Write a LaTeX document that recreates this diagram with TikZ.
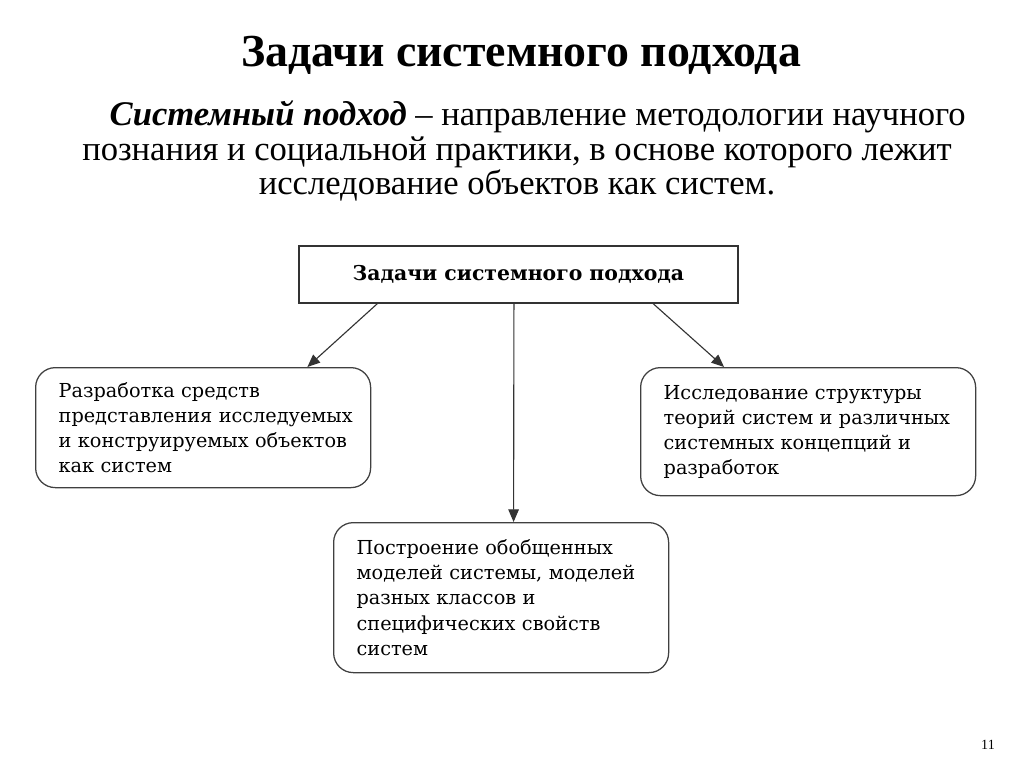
\documentclass[tikz,border=0pt]{standalone}
\usepackage{fontspec}
\setmainfont{Liberation Serif}
\newfontfamily\boxfont{DejaVu Serif}
\usetikzlibrary{arrows.meta,calc}
\newcommand\pxu{0.025cm}

\begin{document}
\begin{tikzpicture}[x=0.025cm, y=-0.025cm,
    taskbox/.style={draw=black!75, line width=0.9pt, rounded corners=14pt, anchor=north west,
      align=left, minimum width=335*\pxu, text width=321*\pxu, inner xsep=0pt, inner ysep=0pt,
      execute at begin node={\leftskip=11.4pt},
      font=\boxfont\fontsize{13.7}{17.8}\selectfont},
    link/.style={draw=black!80, line width=0.8pt, -{Triangle[length=9pt,width=7.5pt]}}]
  \useasboundingbox (0,0) rectangle (1024,767);

  \node [font=\bfseries\fontsize{32.6}{36}\selectfont] (title) at (521,55) {Задачи системного подхода};
  \node [align=center, font=\fontsize{24.6}{24.5}\selectfont] (intro) at (517,151)
    {\hspace*{1.2em}\textbf{\textit{Системный подход}} – направление методологии научного\\
     познания и социальной практики, в основе которого лежит\\
     исследование объектов как систем.};

  % goals
  \node [draw=black!80, line width=1.2pt, anchor=north west, minimum width=439*\pxu, minimum height=57*\pxu,
    font=\boxfont\bfseries\fontsize{14.5}{16}\selectfont] (head) at (298,245) {Задачи системного подхода};

  \node [taskbox, minimum height=120*\pxu] (dev) at (35,367)
    {Разработка средств\\ представления исследуемых\\ и конструируемых объектов\\ как систем};
  \node [taskbox, minimum height=128*\pxu] (study) at (640,367)
    {Исследование структуры\\ теорий систем и различных\\ системных концепций и\\ разработок};
  \node [taskbox, minimum height=150*\pxu] (build) at (333,522)
    {Построение обобщенных\\ моделей системы, моделей\\ разных классов и\\ специфических свойств\\ систем};

  \draw [link] ($(head.south west)!0.18!(head.south east)$) -- ($(dev.north west)!0.81!(dev.north east)$);
  \draw [link] ($(head.south west)!0.49!(head.south east)$) -- ($(build.north west)!0.537!(build.north east)$);
  \draw [link] ($(head.south west)!0.806!(head.south east)$) -- ($(study.north west)!0.25!(study.north east)$);

  \node [font=\fontsize{10}{12}\selectfont] (page) at (988,745) {11};
\end{tikzpicture}
\end{document}
